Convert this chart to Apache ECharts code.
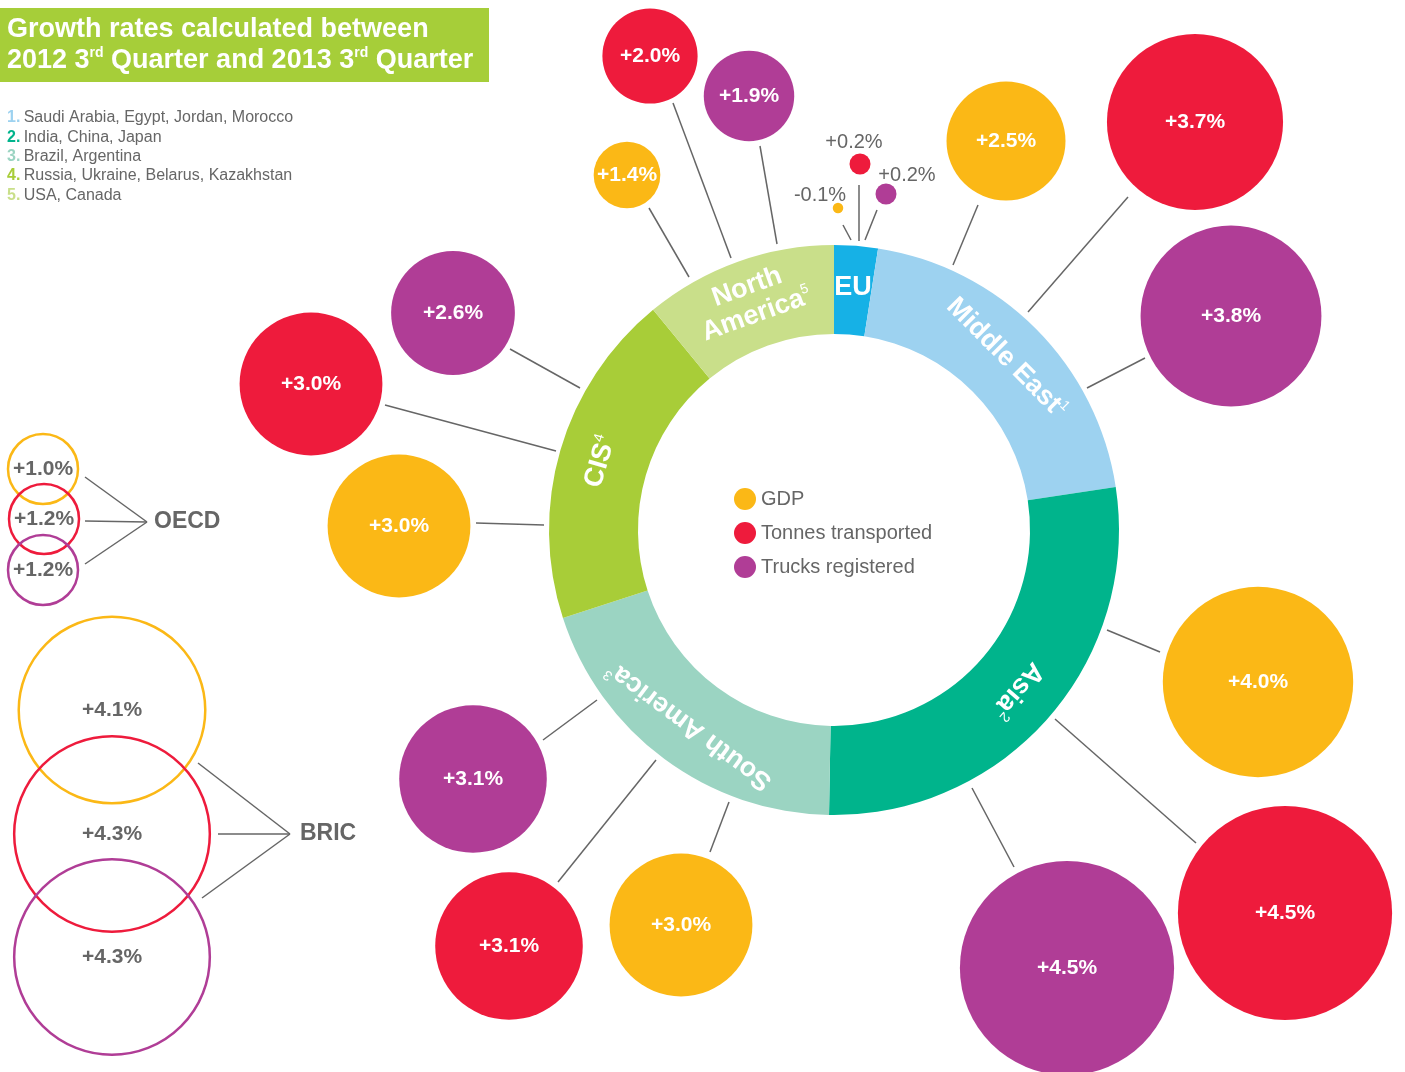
<!DOCTYPE html>
<html>
<head>
<meta charset="utf-8">
<script src="https://cdn.jsdelivr.net/npm/echarts@6/dist/echarts.min.js"></script>
<style>
  html, body { margin: 0; padding: 0; background: #fff; }
  #chart { width: 1405px; height: 1072px; }
</style>
</head>
<body>
<div id="chart"></div>
<script>
// ring segments
const regions = ["EU", "Middle East", "Asia", "South America", "CIS", "North America"];
const regionShare = [8.9, 72.4, 99.7, 71, 68.6, 39.4];
const regionSup = ["", "1", "2", "3", "4", "5"];
const regionColors = ["#16b1e6", "#9dd2f0", "#00b48c", "#9bd4c2", "#a8cd38", "#c9df8a"];

// bubbles: [x, y, growth %] in page units; order NA, EU, ME, Asia, SA, CIS
const gdp = [[627, 175, 1.4], [838, 208, -0.1], [1006, 141, 2.5], [1258, 682, 4.0], [681, 925, 3.0], [399, 526, 3.0]];
const tonnes = [[650, 56, 2.0], [860, 164, 0.2], [1195, 122, 3.7], [1285, 913, 4.5], [509, 946, 3.1], [311, 384, 3.0]];
const trucks = [[749, 96, 1.9], [886, 194, 0.2], [1231, 316, 3.8], [1067, 968, 4.5], [473, 779, 3.1], [453, 313, 2.6]];
// offsets for the tiny EU labels (gdp, tonnes, trucks)
const euLabelOffset = [[-18, 4], [-6, 0], [21, 3]];

// OECD / BRIC comparison
const oecd = [1.0, 1.2, 1.2];
const oecdPos = [[43, 469], [44, 519], [43, 570]];
const bric = [4.1, 4.3, 4.3];
const bricPos = [[112, 710], [112, 834], [112, 957]];

// leader lines
const connectors = [
  [[649, 208], [689, 277]], [[673, 103], [731, 258]], [[760, 146], [777, 244]],
  [[843, 225], [851, 240]], [[859, 185], [859, 241]], [[877, 210], [865, 240]],
  [[978, 205], [953, 265]], [[1128, 197], [1028, 312]], [[1145, 358], [1087, 388]],
  [[1160, 652], [1107, 630]], [[1196, 843], [1055, 719]], [[1014, 867], [972, 788]],
  [[710, 852], [729, 802]], [[558, 882], [656, 760]], [[543, 740], [597, 700]],
  [[476, 523], [544, 525]], [[385, 405], [556, 451]], [[510, 349], [580, 388]],
  [[85, 477], [147, 522]], [[85, 521], [147, 522]], [[85, 564], [147, 522]],
  [[198, 763], [290, 834]], [[218, 834], [290, 834]], [[202, 898], [290, 834]]
];

const footnotes = [
  "Saudi Arabia, Egypt, Jordan, Morocco",
  "India, China, Japan",
  "Brazil, Argentina",
  "Russia, Ukraine, Belarus, Kazakhstan",
  "USA, Canada"
];
const footnoteColors = ["#9dd2f0", "#00b48c", "#9bd4c2", "#a8cd38", "#c9df8a"];

const FONT = "'Liberation Sans', Arial, Helvetica, sans-serif";
const GREY = "#666";
const fmt = v => (v > 0 ? "+" : "") + v.toFixed(1) + "%";

const chart = echarts.init(document.getElementById("chart"));

// ring data with tangential label rotation
const total = regionShare.reduce((a, b) => a + b, 0);
let acc = 0;
const pieData = regions.map((name, i) => {
  const mid = (acc + regionShare[i] / 2) / total * 360;
  acc += regionShare[i];
  const words = name === "North America" ? "{t|North}\n{t|America}" : "{t|" + name + "}";
  return {
    name: name,
    value: regionShare[i],
    itemStyle: { color: regionColors[i] },
    label: {
      rotate: i === 0 ? 0 : -mid,
      formatter: words + (regionSup[i] ? "{s|" + regionSup[i] + "}" : "")
    }
  };
});

function bubbleSeries(name, color, arr, euIdx) {
  const data = arr.map(d => {
    if (Math.abs(d[2]) >= 1) return { value: d };
    return {
      value: d,
      label: {
        position: "top",
        distance: 1,
        offset: euLabelOffset[euIdx],
        color: GREY,
        fontWeight: "normal",
        fontSize: 20
      }
    };
  });
  return {
    name: name,
    type: "scatter",
    silent: true,
    z: 3,
    data: data,
    symbolSize: d => Math.abs(d[2]) >= 1 ? d[2] * 47.6 : Math.abs(d[2]) * 105,
    itemStyle: { color: color, opacity: 1 },
    label: {
      show: true,
      position: "inside",
      formatter: p => fmt(p.value[2]),
      color: "#fff",
      fontFamily: FONT,
      fontWeight: "bold",
      fontSize: 21
    }
  };
}

function groupSeries(vals, pos, sizeFn) {
  const cols = ["#fbb816", "#ee1b3c", "#b03d96"];
  return {
    type: "scatter",
    silent: true,
    z: 3,
    itemStyle: { opacity: 1 },
    data: vals.map((v, i) => ({
      value: [pos[i][0], pos[i][1], v],
      symbolSize: sizeFn(v),
      itemStyle: { color: "rgba(255,255,255,0)", borderColor: cols[i], borderWidth: 2.5, opacity: 1 }
    })),
    label: {
      show: true,
      position: "inside",
      formatter: p => fmt(p.value[2]),
      color: GREY,
      fontFamily: FONT,
      fontWeight: "bold",
      fontSize: 21
    }
  };
}

const graphics = [
  { type: "rect", left: 0, top: 8, shape: { width: 489, height: 74 }, style: { fill: "#a6ce39" } },
  {
    type: "text", left: 7, top: 16,
    style: { text: "Growth rates calculated between", fill: "#fff", font: "bold 27px " + FONT }
  },
  {
    type: "text", left: 7, top: 46,
    style: {
      text: "{m|2012 3}{s|rd}{m| Quarter and 2013 3}{s|rd}{m| Quarter}",
      rich: {
        m: { fill: "#fff", font: "bold 27px " + FONT, lineHeight: 30 },
        s: { fill: "#fff", font: "bold 14px " + FONT, verticalAlign: "top", lineHeight: 30, padding: [0, 0, 12, 0] }
      }
    }
  },
  { type: "text", left: 154, top: 510, style: { text: "OECD", fill: GREY, font: "bold 23px " + FONT } },
  { type: "text", left: 300, top: 822, style: { text: "BRIC", fill: GREY, font: "bold 23px " + FONT } }
];
footnotes.forEach((t, i) => {
  graphics.push({
    type: "text", left: 7, top: 110 + i * 19.3,
    style: {
      text: "{n|" + (i + 1) + ".} {t|" + t + "}",
      rich: {
        n: { fill: footnoteColors[i], font: "bold 16px " + FONT },
        t: { fill: GREY, font: "16px " + FONT }
      }
    }
  });
});

chart.setOption({
  animation: false,
  backgroundColor: "#fff",
  grid: { left: 0, right: 0, top: 0, bottom: 0 },
  xAxis: { type: "value", min: 0, max: 1405, show: false },
  yAxis: { type: "value", min: 0, max: 1072, inverse: true, show: false },
  legend: {
    data: ["GDP", "Tonnes transported", "Trucks registered"],
    orient: "vertical",
    left: 729,
    top: 483,
    icon: "circle",
    itemWidth: 22,
    itemHeight: 22,
    itemGap: 12,
    selectedMode: false,
    textStyle: { color: GREY, fontSize: 20, fontFamily: FONT }
  },
  graphic: graphics,
  series: [
    {
      type: "lines",
      coordinateSystem: "cartesian2d",
      silent: true,
      z: 1,
      lineStyle: { color: GREY, width: 1.5, opacity: 1 },
      data: connectors.map(c => ({ coords: c }))
    },
    {
      type: "pie",
      center: [834, 530],
      radius: [196, 285],
      startAngle: 90,
      clockwise: true,
      silent: true,
      z: 2,
      label: {
        show: true,
        position: "inside",
        rich: {
          t: { color: "#fff", fontFamily: FONT, fontWeight: "bold", fontSize: 27, lineHeight: 29 },
          s: { color: "#fff", fontFamily: FONT, fontSize: 14, verticalAlign: "top", lineHeight: 29, padding: [0, 0, 12, 0] }
        }
      },
      labelLine: { show: false },
      emphasis: { disabled: true },
      data: pieData
    },
    bubbleSeries("GDP", "#fbb816", gdp, 0),
    bubbleSeries("Tonnes transported", "#ee1b3c", tonnes, 1),
    bubbleSeries("Trucks registered", "#b03d96", trucks, 2),
    groupSeries(oecd, oecdPos, () => 70),
    groupSeries(bric, bricPos, v => v * 45.5)
  ]
});
</script>
</body>
</html>
